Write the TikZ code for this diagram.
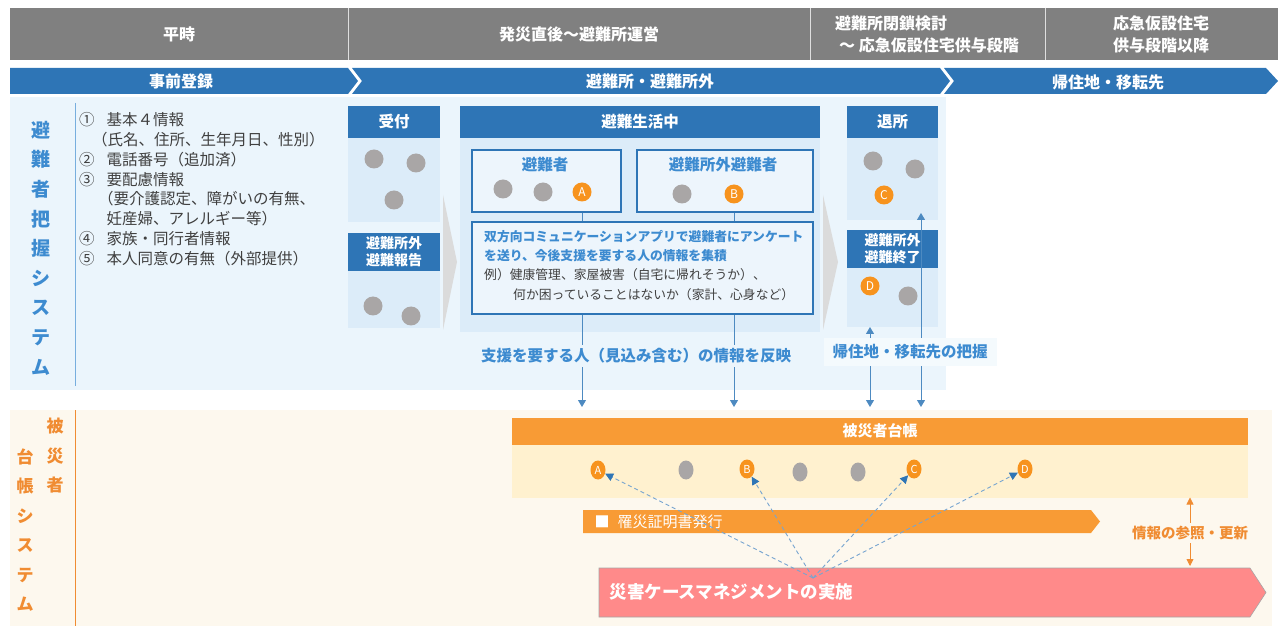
\documentclass[tikz,border=0pt]{standalone}
\usepackage{fontspec}
\setmainfont{Noto Sans CJK JP}
\usetikzlibrary{positioning,arrows.meta,shapes.geometric}

\definecolor{hdgray}{HTML}{808080}
\definecolor{mainblue}{HTML}{2E75B6}
\definecolor{textblue}{HTML}{3D8BD0}
\definecolor{panelblue}{HTML}{EBF5FC}
\definecolor{boxblue}{HTML}{DCECF9}
\definecolor{dotgray}{HTML}{A9A6A6}
\definecolor{mkorange}{HTML}{F7931E}
\definecolor{barorange}{HTML}{F89B35}
\definecolor{cream}{HTML}{FDF8EE}
\definecolor{ledgeryellow}{HTML}{FFF1CF}
\definecolor{casepink}{HTML}{FF8A8A}
\definecolor{lowtext}{HTML}{F08C32}
\definecolor{listtext}{HTML}{404040}

\newcommand{\fsz}[2]{\fontsize{#1pt}{#2pt}\selectfont}

\begin{document}
\begin{tikzpicture}[x=1pt,y=-1pt,
  hdtext/.style={text=white,font=\bfseries\fsz{16}{22},align=center},
  boxhead/.style={fill=mainblue,text=white,font=\bfseries\fsz{15.5}{18},align=center,inner sep=0pt,outer sep=0pt},
  boxbody/.style={fill=boxblue,inner sep=0pt,outer sep=0pt},
  innerbox/.style={draw=mainblue,line width=1.3pt,fill=boxblue!50!white},
  person/.style={circle,fill=dotgray,minimum size=19pt,inner sep=0pt},
  marked/.style={circle,fill=mkorange,text=white,minimum size=19pt,inner sep=0pt,font=\fsz{12}{12}},
  ledperson/.style={ellipse,fill=dotgray,minimum width=15pt,minimum height=19pt,inner sep=0pt},
  ledmark/.style={ellipse,fill=mkorange,text=white,minimum width=15pt,minimum height=19pt,inner sep=0pt,font=\fsz{11}{11}},
  bluelabel/.style={text=textblue,font=\bfseries\fsz{15.5}{18}},
  link/.style={draw=mainblue!85,line width=1pt},
  flow/.style={link,-{Triangle[width=8pt,length=7pt]}},
  refer/.style={draw=mainblue!65,line width=0.9pt,dash pattern=on 4pt off 3pt,-{Triangle[width=8pt,length=8pt,color=mainblue]}},
  upd/.style={draw=lowtext,line width=0.8pt,-{Triangle[width=7pt,length=7pt]}}]

\useasboundingbox (0,0) rectangle (1283,628);

%% header row
\fill[hdgray] (10,8) rectangle (1278,60);
\draw[white!75!gray,line width=1pt] (348,8) -- (348,60);
\draw[white!75!gray,line width=1pt] (810,8) -- (810,60);
\draw[white!75!gray,line width=1pt] (1045,8) -- (1045,60);
\node[hdtext] (hdA) at (179,34) {平時};
\node[hdtext] (hdB) at (579,34) {発災直後～避難所運営};
\node[hdtext,align=left] (hdC) at (927,34) {避難所閉鎖検討\\\hspace*{4pt}～ 応急仮設住宅供与段階};
\node[hdtext] (hdD) at (1161,34) {応急仮設住宅\\供与段階以降};

%% phase chevrons
\fill[mainblue] (10,68) -- (348,68) -- (358,81) -- (348,94) -- (10,94) -- cycle;
\fill[mainblue] (352,68) -- (940,68) -- (950,81) -- (940,94) -- (352,94) -- (362,81) -- cycle;
\fill[mainblue] (944,68) -- (1266,68) -- (1278,81) -- (1266,94) -- (944,94) -- (954,81) -- cycle;
\node[hdtext] (phA) at (181,81) {事前登録};
\node[hdtext] (phB) at (650,81) {避難所・避難所外};
\node[hdtext] (phC) at (1108,82) {帰住地・移転先};

%% upper panel
\fill[panelblue] (10,97) rectangle (946,390);
\draw[textblue!70,line width=0.8pt] (75,103) -- (75,386);
\node[text=textblue,font=\bfseries\fsz{19}{29.6},align=center] (sysup) at (41,248) {避\\難\\者\\把\\握\\シ\\ス\\テ\\ム};
\node[anchor=north west,inner sep=0pt,text=listtext,font=\fsz{15.5}{19.9},align=left] (items) at (79,112) {%
①\hspace*{12pt}基本４情報\\
\hspace*{13pt}（氏名、住所、生年月日、性別）\\
②\hspace*{12pt}電話番号（追加済）\\
③\hspace*{12pt}要配慮情報\\
\hspace*{19pt}（要介護認定、障がいの有無、\\
\hspace*{27.5pt}妊産婦、アレルギー等）\\
④\hspace*{12pt}家族・同行者情報\\
⑤\hspace*{12pt}本人同意の有無（外部提供）};

%% gray step arrows
\fill[gray!28] (443,195) -- (457,262) -- (443,330) -- cycle;
\fill[gray!28] (823,195) -- (838,262) -- (823,330) -- cycle;

%% reception column
\node[boxhead,minimum width=92pt,minimum height=32pt] (recv) at (394,122) {受付};
\node[boxbody,minimum width=92pt,minimum height=84pt,below=0pt of recv] (recvbody) {};
\node[boxhead,minimum width=92pt,minimum height=38pt,font=\bfseries\fsz{14}{17}] (rpt) at (394,252) {避難所外\\避難報告};
\node[boxbody,minimum width=92pt,minimum height=57pt,below=0pt of rpt] (rptbody) {};
\node[person] (r1) at (374,159) {};   %% recv
\node[person] (r2) at (416,163) {};   %% recv
\node[person] (r3) at (394,200) {};   %% recv
\node[person] (r4) at (373,306) {};   %% rpt
\node[person] (r5) at (411,316) {};   %% rpt

%% shelter life column
\node[boxhead,minimum width=360pt,minimum height=32pt] (life) at (640,122) {避難生活中};
\node[boxbody,minimum width=360pt,minimum height=194pt,below=0pt of life] (lifebody) {};
\node[innerbox,minimum width=149pt,minimum height=62pt] (evac) at (546.5,181) {};
\node[innerbox,minimum width=176pt,minimum height=62pt] (outside) at (725,181) {};
\node[innerbox,minimum width=341pt,minimum height=92pt] (survey) at (642.5,268) {};
\node[bluelabel] (evactitle) at (545,165) {避難者};
\node[bluelabel] (outtitle) at (723,165) {避難所外避難者};
\node[person] (l1) at (503,189) {};   %% evac
\node[person] (l2) at (543,192) {};   %% evac
\node[marked] (mkA) at (582,192) {A};
\node[person] (l3) at (682,194) {};   %% outside
\node[marked] (mkB) at (734,194) {B};
\node[anchor=north west,inner sep=0pt,text=listtext,font=\fsz{12.8}{19.3},align=left] (surveytext) at (484,230) {%
\textcolor{textblue}{\bfseries 双方向コミュニケーションアプリで避難者にアンケート}\\
\textcolor{textblue}{\bfseries を送り、今後支援を要する人の情報を集積}\\
例）健康管理、家屋被害（自宅に帰れそうか）、\\
\hspace*{29pt}何か困っていることはないか（家計、心身など）};

%% leaving column
\node[boxhead,minimum width=91pt,minimum height=32pt] (leave) at (892.5,122) {退所};
\node[boxbody,minimum width=91pt,minimum height=82pt,below=0pt of leave] (leavebody) {};
\node[boxhead,minimum width=91pt,minimum height=38pt,font=\bfseries\fsz{14}{17}] (outend) at (892.5,249) {避難所外\\避難終了};
\node[boxbody,minimum width=91pt,minimum height=59pt,below=0pt of outend] (outendbody) {};
\node[person] (x1) at (873,161) {};   %% leave
\node[person] (x2) at (915,169) {};   %% leave
\node[marked] (mkC) at (884,195) {C};
\node[marked] (mkD) at (870,286) {D};
\node[person] (x3) at (908,296) {};   %% outend

%% lower panel
\fill[cream] (10,410) rectangle (1272,626);
\draw[lowtext,line width=0.8pt] (75,410) -- (75,626);
\node[text=lowtext,font=\bfseries\fsz{17}{29.5},align=center] (syslowA) at (55,456) {被\\災\\者};
\node[text=lowtext,font=\bfseries\fsz{17}{29.5},align=center] (syslowB) at (25,530) {台\\帳\\シ\\ス\\テ\\ム};

%% ledger
\node[fill=barorange,text=white,font=\bfseries\fsz{15}{18},minimum width=736pt,minimum height=27pt,inner sep=0pt,outer sep=0pt] (ledger) at (880,431) {被災者台帳};
\node[fill=ledgeryellow,minimum width=736pt,minimum height=53pt,inner sep=0pt,outer sep=0pt,below=0pt of ledger] (ledgerbody) {};
\node[ledmark] (ledA) at (598,470) {A};
\node[ledperson] (lg1) at (686,470) {};
\node[ledmark] (ledB) at (747,469) {B};
\node[ledperson] (lg2) at (800,472) {};
\node[ledperson] (lg3) at (858,472) {};
\node[ledmark] (ledC) at (914,469) {C};
\node[ledmark] (ledD) at (1025,469) {D};

%% certificate and case management bars
\fill[barorange] (583,510) -- (1091,510) -- (1100,521.5) -- (1091,533) -- (583,533) -- cycle;
\node[anchor=west,text=white,font=\fsz{15}{18}] (cert) at (591,521.5) {■\hspace{8pt}罹災証明書発行};
\filldraw[fill=casepink,draw=gray!70,line width=0.6pt] (599,568) -- (1250,568) -- (1266,592.5) -- (1250,617) -- (599,617) -- cycle;
\node[anchor=west,text=white,font=\bfseries\fsz{17.5}{20}] (casemg) at (606,592) {災害ケースマネジメントの実施};
\node[text=lowtext,font=\bfseries\fsz{14.5}{17}] (refupd) at (1190,533) {情報の参照・更新};

%% labels on the flows
\node[bluelabel] (reflect) at (636,356) {支援を要する人（見込み含む）の情報を反映};
\node[bluelabel,fill=panelblue!55!white,minimum width=173pt,minimum height=28pt] (grasp) at (910,352) {帰住地・移転先の把握};

%% connectors
\coordinate (lowtop) at (0,407);
\coordinate (upR) at (921,213);
\coordinate (hub) at (813,578);
\coordinate (casetop) at (1190,566);
\draw[link] (mkA |- evac.south) -- (mkA |- survey.north);
\draw[link] (mkB |- outside.south) -- (mkB |- survey.north);
\draw[link] (mkA |- survey.south) -- (mkA |- reflect.north);
\draw[link] (mkB |- survey.south) -- (mkB |- reflect.north);
\draw[flow] (mkA |- reflect.south) -- (mkA |- lowtop);
\draw[flow] (mkB |- reflect.south) -- (mkB |- lowtop);
\draw[flow] (grasp.north -| mkD) -- (mkD |- outendbody.south);
\draw[flow] (grasp.south -| mkD) -- (mkD |- lowtop);
\draw[flow] (grasp.north -| upR) -- (upR);
\draw[flow] (grasp.south -| upR) -- (upR |- lowtop);
\draw[refer] (hub) -- (ledA);
\draw[refer] (hub) -- (ledB);
\draw[refer] (hub) -- (ledC);
\draw[refer] (hub) -- (ledD);
\draw[upd] (refupd.north) -- (refupd.north |- ledgerbody.south);
\draw[upd] (refupd.south) -- (casetop);

\end{tikzpicture}
\end{document}
